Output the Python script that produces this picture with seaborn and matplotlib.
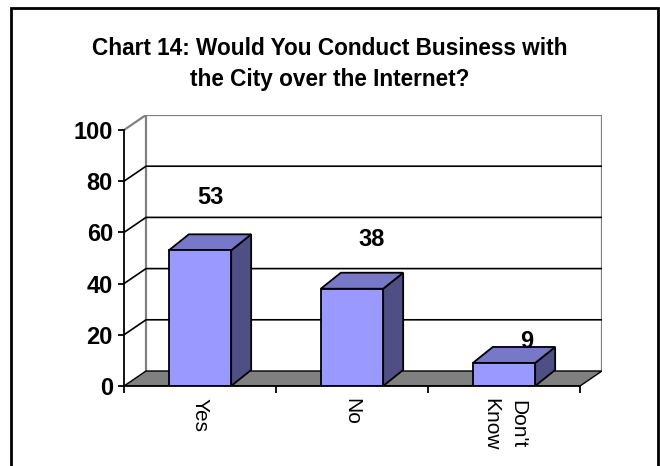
import matplotlib
matplotlib.use("Agg")
import matplotlib.pyplot as plt
from matplotlib.patches import Polygon, Rectangle
import seaborn as sns

# Survey responses (percent)
categories = ["Yes", "No", "Don't\nKnow"]
values = [53, 38, 9]
yticks = [0, 20, 40, 60, 80, 100]
title = "Chart 14: Would You Conduct Business with\nthe City over the Internet?"

# label nudges (x in category units, y in percent) so numbers float above the boxes
label_dx = [0.07, 0.13, 0.15]
label_dy = [20.8, 19.4, 8.2]

sns.set_style("white")
plt.rcParams["font.family"] = ["Liberation Sans", "DejaVu Sans"]
plt.rcParams.update({"text.color": "black", "xtick.color": "black",
                     "ytick.color": "black", "axes.labelcolor": "black"})

W, H = 660, 466
fig = plt.figure(figsize=(W / 100, H / 100), dpi=100)

# 3-D depth of the back wall and of the boxes
DX, DY = 22 / 152, 15 / 2.56
BDX, BDY = 20 / 152, 16 / 2.56

ax = fig.add_axes([124 / W, (H - 386) / H, (602 - 124) / W, (386 - 115) / H])
ax.set_facecolor("none")

sns.barplot(x=categories, y=values, color="#9999FF", width=0.41, saturation=1,
            edgecolor="black", linewidth=1.3, ax=ax)
bars = [b for b in ax.patches if isinstance(b, Rectangle)]

n = len(categories)
x0, x1 = -0.5, n - 0.5
ax.set_xlim(x0, x1 + DX)
ax.set_ylim(0, 100 + DY)

# back wall and its gridlines
ax.plot([x0 + DX, x0 + DX, x1 + DX, x1 + DX], [DY, 100 + DY, 100 + DY, DY],
        color="#808080", lw=1.6, zorder=0.6, solid_joinstyle="miter")
for v in yticks[1:-1]:
    ax.plot([x0, x0 + DX, x1 + DX], [v, v + DY, v + DY], color="black",
            lw=1.2, zorder=0.7)
ax.plot([x0, x0 + DX], [100, 100 + DY], color="#808080", lw=1.6, zorder=0.7)

# floor
ax.add_patch(Polygon([(x0, 0), (x1, 0), (x1 + DX, DY), (x0 + DX, DY)],
                     closed=True, facecolor="#808080", edgecolor="black",
                     lw=1.0, zorder=1))

# box sides and tops, built from the bars seaborn drew
for p in bars:
    bx, bw, bh = p.get_x(), p.get_width(), p.get_height()
    p.set_zorder(4)
    side = Polygon([(bx + bw, 0), (bx + bw + BDX, BDY), (bx + bw + BDX, bh + BDY),
                    (bx + bw, bh)], closed=True, facecolor="#4F4F85",
                   edgecolor="black", lw=1.3, zorder=3)
    top = Polygon([(bx, bh), (bx + bw, bh), (bx + bw + BDX, bh + BDY),
                   (bx + BDX, bh + BDY)], closed=True, facecolor="#7878C8",
                  edgecolor="black", lw=1.3, zorder=3)
    ax.add_patch(side)
    ax.add_patch(top)

# value labels
for i, v in enumerate(values):
    ax.text(i + label_dx[i], v + label_dy[i], f"{v}", ha="center", va="center",
            fontsize=17, fontweight="bold", color="black", zorder=6)

# axes
for s in ["top", "right"]:
    ax.spines[s].set_visible(False)
ax.spines["left"].set_bounds(0, 100)
ax.spines["bottom"].set_bounds(x0, x1)
for s in ["left", "bottom"]:
    ax.spines[s].set_color("black")
    ax.spines[s].set_linewidth(1.3)
    ax.spines[s].set_zorder(5)

ax.set_yticks(yticks)
ax.set_yticklabels([str(t) for t in yticks], fontsize=17, fontweight="bold")
ax.tick_params(axis="y", direction="out", length=4.5, width=1.3, pad=3.5,
               left=True, color="black", labelcolor="black")

ax.set_xticks([x0 + i for i in range(n + 1)])
ax.set_xticklabels([""] * (n + 1))
ax.set_xticks(range(n), minor=True)
ax.set_xticklabels(categories, minor=True, rotation=-90, fontsize=15,
                   va="top", ha="center", linespacing=1.5)
ax.tick_params(axis="x", which="major", direction="out", length=5, width=1.3,
               bottom=True, color="black")
ax.tick_params(axis="x", which="minor", length=0, pad=8.5, labelcolor="black")
ax.set_xlabel("")
ax.set_ylabel("")

fig.text(0.5, 1 - 64 / H, title, ha="center", va="center", fontsize=16.3,
         fontweight="bold", linespacing=1.4, color="black")

# outer frame
fig.patches.append(Rectangle((11 / W, -0.02), (658 - 11) / W, 1 - 8 / H + 0.02,
                             transform=fig.transFigure, fill=False,
                             edgecolor="black", lw=2, zorder=10))

fig.savefig("out.png", dpi=100)
